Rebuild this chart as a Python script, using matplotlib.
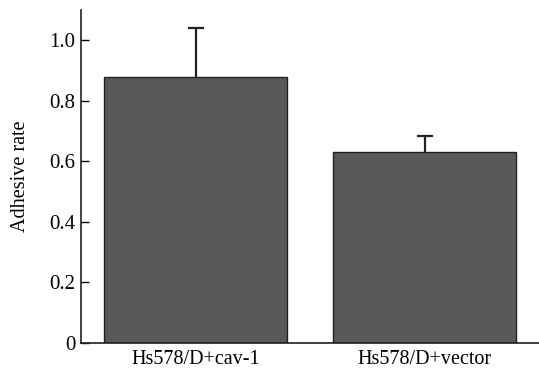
import matplotlib
matplotlib.use("Agg")
import matplotlib.pyplot as plt
import numpy as np

categories = ["Hs578/D+cav-1", "Hs578/D+vector"]
values = [0.88, 0.63]
errors = [0.162, 0.055]
yticks = [0, 0.2, 0.4, 0.6, 0.8, 1.0]
ytick_labels = ["0", "0.2", "0.4", "0.6", "0.8", "1.0"]

plt.rcParams['font.family'] = ['Liberation Serif', 'DejaVu Serif']

fig = plt.figure(figsize=(5.39, 3.70), dpi=100)
ax = fig.add_axes([0.1503, 0.073, 0.8497, 0.9])

x = np.arange(len(categories))
ax.bar(x, values, width=0.8, color="#58595b", edgecolor="#231f20", linewidth=1.0, zorder=2)
_, caps, _ = ax.errorbar(x, values, yerr=[np.zeros(len(errors)), errors], fmt="none",
                         ecolor="#231f20", elinewidth=1.6, capsize=5.5, capthick=1.6, zorder=1)
caps[0].set_visible(False)

ax.set_xlim(-0.5, 1.5)
ax.set_ylim(0, 1.1)
ax.set_yticks(yticks)
ax.set_yticklabels(ytick_labels, fontsize=15)
ax.set_xticks(x)
ax.set_xticklabels(categories, fontsize=14.5)
ax.tick_params(axis="x", length=0, pad=5)
ax.tick_params(axis="y", direction="in", length=5.5, width=1.0, pad=4)
ax.set_ylabel("Adhesive rate", fontsize=14.5, labelpad=14)
for s in ["top", "right"]:
    ax.spines[s].set_visible(False)
for s in ["left", "bottom"]:
    ax.spines[s].set_linewidth(1.2)
    ax.spines[s].set_color("#231f20")

fig.savefig("out.png", dpi=100)
